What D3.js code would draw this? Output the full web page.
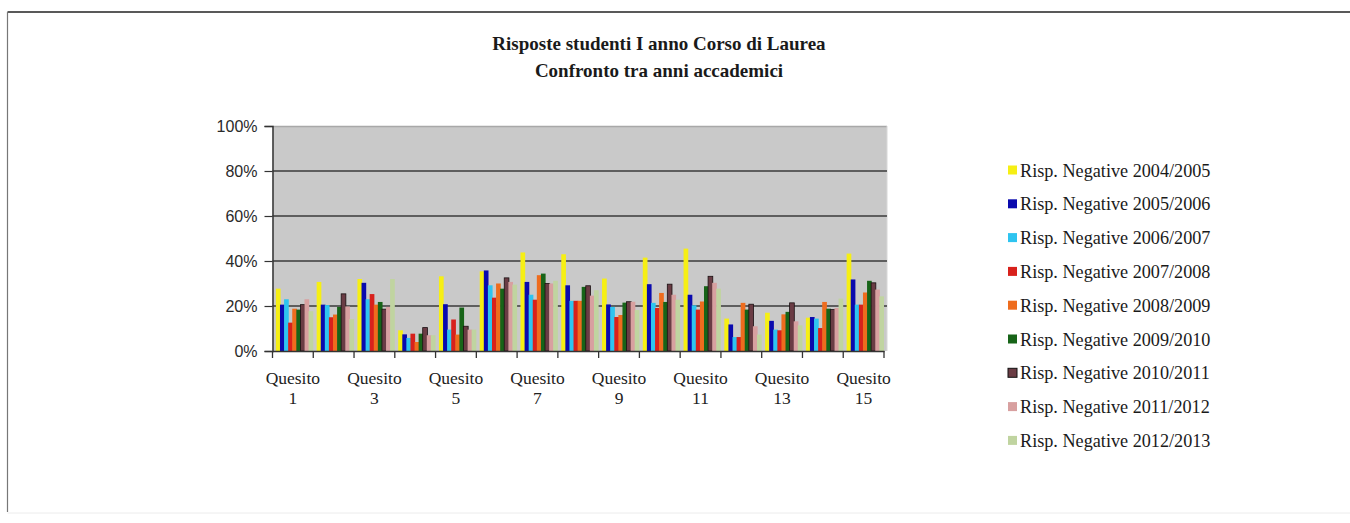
<!DOCTYPE html>
<html><head><meta charset="utf-8">
<script src="https://cdn.jsdelivr.net/npm/d3@7/dist/d3.min.js"></script>
<style>body{margin:0;background:#fff;overflow:hidden}</style>
</head><body>
<svg id="c" width="1350" height="523"></svg>
<script>
const categories = ["Quesito 1","Quesito 2","Quesito 3","Quesito 4","Quesito 5","Quesito 6","Quesito 7","Quesito 8","Quesito 9","Quesito 10","Quesito 11","Quesito 12","Quesito 13","Quesito 14","Quesito 15"];
const seriesNames = ["Risp. Negative 2004/2005","Risp. Negative 2005/2006","Risp. Negative 2006/2007","Risp. Negative 2007/2008","Risp. Negative 2008/2009","Risp. Negative 2009/2010","Risp. Negative 2010/2011","Risp. Negative 2011/2012","Risp. Negative 2012/2013"];
const s2004 = [27.7, 30.7, 32.0, 9.2, 33.2, 35.4, 43.8, 43.0, 32.2, 41.5, 45.5, 14.4, 17.0, 14.8, 43.3];
const s2005 = [20.6, 20.6, 30.3, 7.4, 20.8, 35.8, 30.7, 29.2, 20.7, 29.7, 25.0, 11.8, 13.4, 15.1, 31.8];
const s2006 = [23.0, 20.4, 23.0, 5.8, 9.5, 29.2, 25.0, 22.3, 19.6, 21.4, 20.3, 6.2, 9.5, 14.4, 20.6];
const s2007 = [12.6, 15.0, 25.3, 7.7, 14.0, 23.7, 22.8, 22.3, 15.1, 19.1, 18.4, 6.2, 9.2, 10.2, 20.6];
const s2008 = [18.8, 16.2, 20.6, 4.0, 7.3, 30.0, 33.7, 22.3, 16.0, 25.8, 22.0, 21.4, 16.3, 21.8, 26.0];
const s2009 = [18.4, 19.6, 21.8, 7.7, 19.3, 27.7, 34.4, 28.5, 21.5, 21.8, 28.8, 18.4, 17.4, 18.8, 31.2];
const s2010 = [20.6, 25.4, 18.6, 10.4, 11.0, 32.5, 30.0, 29.0, 21.9, 29.7, 33.2, 20.8, 21.4, 18.4, 30.3];
const s2011 = [23.0, 19.8, 19.6, 7.0, 9.5, 30.7, 30.0, 24.6, 21.9, 25.0, 30.3, 11.0, 13.2, 19.1, 27.3];
const s2012 = [17.7, 14.2, 32.0, 7.0, 9.5, 29.5, 31.2, 27.0, 18.2, 22.8, 27.7, 7.3, 11.4, 23.3, 24.3];
const seriesValues = [s2004, s2005, s2006, s2007, s2008, s2009, s2010, s2011, s2012];
const colors = ["#f6ef14","#0a0aae","#2ec4f0","#d8211c","#ee6c1e","#176418","#6a3c44","#d8a0a0","#c0d4a0"];
const yTicks = [0, 20, 40, 60, 80, 100];
const titleLines = ["Risposte studenti I anno Corso di Laurea", "Confronto tra anni accademici"];

const svg = d3.select("#c");
// frame
svg.append("line").attr("x1",7.5).attr("x2",1350).attr("y1",12).attr("y2",12).attr("stroke","#222").attr("stroke-width",1.5);
svg.append("line").attr("x1",7.5).attr("x2",7.5).attr("y1",12).attr("y2",512).attr("stroke","#777").attr("stroke-width",1.2);
svg.append("line").attr("x1",7.5).attr("x2",1350).attr("y1",513).attr("y2",513).attr("stroke","#ececec").attr("stroke-width",1);

// title
svg.append("g").selectAll("text").data(titleLines).join("text")
  .attr("x", 659).attr("y", (d,i)=> 50 + i*27)
  .attr("text-anchor","middle")
  .attr("font-family","'Liberation Serif', serif").attr("font-size",19).attr("font-weight","bold")
  .attr("fill","#1a1a1a").text(d=>d);

const pLeft = 272.5, pRight = 884, pTop = 126, pBottom = 351, wallRight = 887;
const x = d3.scaleBand().domain(categories).range([pLeft, pRight]).paddingInner(0).paddingOuter(0);
const y = d3.scaleLinear().domain([0,100]).range([pBottom, pTop]);
const xs = d3.scaleBand().domain(seriesNames).range([3.4, x.bandwidth()-0.6]).padding(0);

// plot area
svg.append("rect").attr("x",pLeft).attr("y",pTop).attr("width",wallRight-pLeft).attr("height",pBottom-pTop)
  .attr("fill","#c9c9c9");
svg.append("line").attr("x1",pLeft).attr("x2",wallRight).attr("y1",pTop+0.5).attr("y2",pTop+0.5).attr("stroke","#a8a8a8").attr("stroke-width",1.5);
svg.append("line").attr("x1",wallRight).attr("x2",wallRight).attr("y1",pTop).attr("y2",pBottom).attr("stroke","#d8d8d8").attr("stroke-width",1);

// gridlines
svg.append("g").selectAll("line").data(yTicks.filter(d=>d>0 && d<100)).join("line")
  .attr("x1",pLeft).attr("x2",wallRight).attr("y1",d=>y(d)).attr("y2",d=>y(d))
  .attr("stroke","#3a3a3a").attr("stroke-width",1.4);

// bars
const groups = svg.append("g").selectAll("g").data(categories).join("g")
  .attr("transform", d=>`translate(${x(d)},0)`);
groups.selectAll("rect").data((c,ci)=> seriesNames.map((s,si)=>({s, si, v: seriesValues[si][ci]})))
  .join("rect")
  .attr("x", d=> xs(d.s))
  .attr("width", xs.bandwidth()+0.6)
  .attr("y", d=> y(d.v))
  .attr("height", d=> y(0)-y(d.v))
  .attr("fill", d=> colors[d.si])
  .attr("stroke", d=> d.si===6 ? "#1a1012" : "none")
  .attr("stroke-width", 0.8);

// y axis
const yAxis = svg.append("g").attr("transform",`translate(${pLeft},0)`)
  .call(d3.axisLeft(y).tickValues(yTicks).tickFormat(d=>d+"%").tickSize(8).tickPadding(7));
yAxis.select(".domain").attr("stroke","#333").attr("stroke-width",1.5);
yAxis.selectAll(".tick line").attr("stroke","#333").attr("stroke-width",1.2);
yAxis.selectAll(".tick text").attr("font-family","'Liberation Sans', Arial, sans-serif").attr("font-size",16).attr("fill","#2a2a2a");

// x axis
const xAxis = svg.append("g").attr("transform",`translate(0,${pBottom})`)
  .call(d3.axisBottom(x).tickSize(0).tickFormat(""));
xAxis.select(".domain").attr("stroke","#333").attr("stroke-width",1.5);
const boundaries = categories.map(c=>x(c)).concat([x(categories[categories.length-1])+x.bandwidth()]);
svg.append("g").selectAll("line").data(boundaries).join("line")
  .attr("x1",d=>d).attr("x2",d=>d).attr("y1",pBottom).attr("y2",pBottom+7)
  .attr("stroke","#333").attr("stroke-width",1.3);
const lab = svg.append("g").selectAll("text").data(categories.filter((c,i)=>i%2===0)).join("text")
  .attr("font-family","'Liberation Serif', serif").attr("font-size",17.5).attr("fill","#222")
  .attr("text-anchor","middle");
lab.append("tspan").attr("x", d=> x(d)+x.bandwidth()/2).attr("y", 384).text(d=> d.split(" ")[0]);
lab.append("tspan").attr("x", d=> x(d)+x.bandwidth()/2).attr("y", 404).text(d=> d.split(" ")[1]);

// legend
const leg = svg.append("g").selectAll("g").data(seriesNames).join("g")
  .attr("transform",(d,i)=>`translate(1008,${170 + i*33.8})`);
leg.append("rect").attr("x",0).attr("y",-4.5).attr("width",9).attr("height",9)
  .attr("fill",(d,i)=>colors[i]).attr("stroke",(d,i)=> i===6 ? "#111" : "none").attr("stroke-width",1);
leg.append("text").attr("x",12).attr("y",6.5)
  .attr("font-family","'Liberation Serif', serif").attr("font-size",18.2).attr("fill","#1a1a1a")
  .text(d=>d);
</script>
</body></html>
